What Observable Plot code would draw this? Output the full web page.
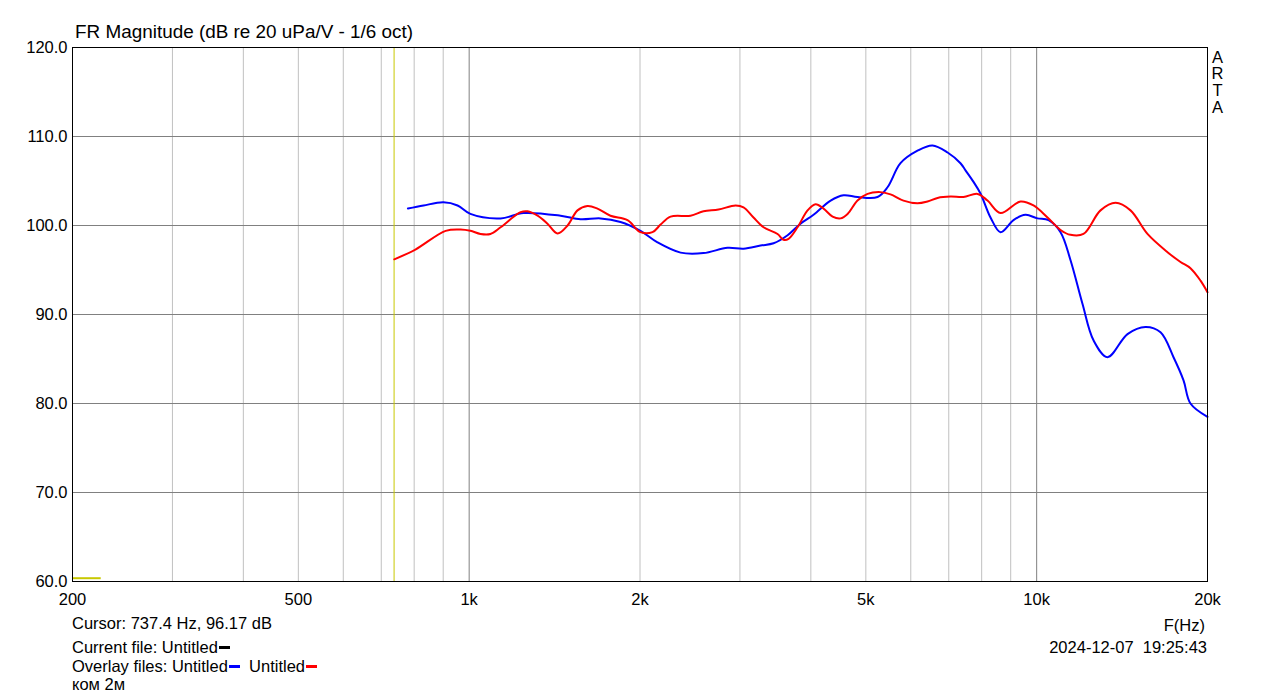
<!DOCTYPE html>
<html>
<head>
<meta charset="utf-8">
<script src="https://cdn.jsdelivr.net/npm/d3@7"></script>
<script src="https://cdn.jsdelivr.net/npm/@observablehq/plot@0.6"></script>
<style>
  html, body { margin: 0; padding: 0; background: #fff; }
  #wrap { position: relative; width: 1279px; height: 699px; overflow: hidden; font-family: "Liberation Sans", Arial, sans-serif; color: #000; }
  #wrap svg { position: absolute; left: 0; top: 0; }
  .t { position: absolute; line-height: 1; white-space: pre; font-size: 16.5px; }
  .dash { display: inline-block; width: 11px; height: 0; border-top: 3px solid; vertical-align: 4px; margin-left: 1px; }
</style>
</head>
<body>
<div id="wrap"></div>
<script>
// ---- data ----
const blueFreq = [780, 831, 901, 954, 1005, 1136, 1247, 1449, 1571, 1704, 1848, 2004, 2147, 2358, 2588, 2853, 3044, 3262, 3439, 3640, 3836, 4044, 4334, 4568, 4834, 5243, 5460, 5755, 6166, 6553, 6967, 7341, 7492, 7740, 7962, 8292, 8636, 9103, 9557, 10032, 10493, 11016, 11473, 12042, 12594, 13331, 14456, 15549, 16530, 17424, 18146, 18665, 20000];
const blueDb   = [101.9, 102.25, 102.6, 102.25, 101.3, 100.8, 101.4, 101.1, 100.7, 100.8, 100.4, 99.4, 98.1, 96.95, 96.9, 97.5, 97.4, 97.75, 98.0, 98.9, 100.2, 101.2, 102.8, 103.4, 103.2, 103.2, 104.3, 107.0, 108.4, 109.0, 108.2, 107.0, 106.2, 104.9, 103.6, 100.9, 99.25, 100.6, 101.2, 100.8, 100.6, 99.25, 96.1, 91.2, 87.1, 85.2, 87.8, 88.6, 88.0, 85.2, 82.6, 80.0, 78.5];

const redFreq = [738, 804, 909, 966, 1005, 1047, 1090, 1136, 1232, 1267, 1320, 1374, 1431, 1491, 1552, 1616, 1683, 1774, 1901, 2004, 2104, 2174, 2264, 2455, 2588, 2750, 2947, 3044, 3170, 3302, 3495, 3580, 3654, 3790, 3947, 4078, 4212, 4369, 4513, 4643, 4834, 5034, 5307, 5527, 5825, 6166, 6421, 6689, 7051, 7431, 7866, 8192, 8636, 9365, 9872, 10450, 11016, 11473, 12092, 12957, 13772, 14634, 15677, 17004, 17926, 18665, 19442, 20000];
const redDb   = [96.2, 97.3, 99.4, 99.55, 99.4, 99.05, 99.05, 99.8, 101.5, 101.6, 101.1, 100.2, 99.1, 100.0, 101.7, 102.2, 101.9, 101.1, 100.6, 99.25, 99.25, 100.1, 101.0, 101.1, 101.6, 101.8, 102.25, 102.05, 100.9, 99.8, 99.05, 98.4, 98.5, 99.8, 101.7, 102.4, 101.9, 101.0, 100.8, 101.3, 102.8, 103.55, 103.75, 103.5, 102.8, 102.5, 102.7, 103.1, 103.25, 103.2, 103.55, 102.8, 101.4, 102.7, 102.25, 100.9, 99.5, 98.95, 99.05, 101.7, 102.55, 101.7, 99.05, 97.0, 95.9, 95.2, 93.8, 92.5];

const xTickValues = [200, 500, 1000, 2000, 5000, 10000, 20000];
const xTickLabels = ["200", "500", "1k", "2k", "5k", "10k", "20k"];
const yTickValues = [60, 70, 80, 90, 100, 110, 120];
const xMinorGrid = [300, 400, 500, 600, 700, 800, 900, 2000, 3000, 4000, 5000, 6000, 7000, 8000, 9000];
const xMajorGrid = [1000, 10000];
const yGrid = [70, 80, 90, 100, 110];
const cursorFreq = [737.4];
const cursorMarkDb = [60.37];
const cursorMarkRange = [200, 224.7];

// ---- build rows ----
const blueRows = blueFreq.map((f, i) => ({f, db: blueDb[i]}));
const redRows = redFreq.map((f, i) => ({f, db: redDb[i]}));
const labelOf = new Map(xTickValues.map((v, i) => [v, xTickLabels[i]]));

const chart = Plot.plot({
  width: 1279,
  height: 699,
  marginTop: 47,
  marginLeft: 72,
  marginRight: 72,
  marginBottom: 118,
  style: {fontFamily: "'Liberation Sans', Arial, sans-serif", fontSize: "16.5px", background: "transparent", color: "#000"},
  x: {type: "log", domain: [200, 20000], range: [72, 1207]},
  y: {domain: [60, 120]},
  marks: [
    Plot.ruleX(xMinorGrid, {stroke: "#c0c0c0", strokeWidth: 1}),
    Plot.ruleX(xMajorGrid, {stroke: "#808080", strokeWidth: 1}),
    Plot.ruleY(yGrid, {stroke: "#808080", strokeWidth: 1}),
    Plot.ruleX(cursorFreq, {stroke: "#c8c800", strokeWidth: 1}),
    Plot.ruleY(cursorMarkDb, {x1: cursorMarkRange[0], x2: cursorMarkRange[1], stroke: "#c8c800", strokeWidth: 2}),
    Plot.line(blueRows, {x: "f", y: "db", stroke: "#0000ff", strokeWidth: 2, curve: "catmull-rom"}),
    Plot.line(redRows, {x: "f", y: "db", stroke: "#ff0000", strokeWidth: 2, curve: "catmull-rom"}),
    Plot.frame({stroke: "#000", strokeWidth: 1}),
    Plot.axisX({ticks: xTickValues, tickFormat: d => labelOf.get(d), tickSize: 0, tickPadding: 12, label: null, fontSize: 16.5}),
    Plot.axisY({ticks: yTickValues, tickFormat: d3.format(".1f"), tickSize: 0, tickPadding: 5, label: null, fontSize: 16.5})
  ]
});

const wrap = document.getElementById("wrap");
wrap.appendChild(chart);

function addText(html, css) {
  const d = document.createElement("div");
  d.className = "t";
  d.innerHTML = html;
  Object.assign(d.style, css);
  wrap.appendChild(d);
  return d;
}

addText("FR Magnitude (dB re 20 uPa/V - 1/6 oct)", {left: "75px", top: "23.3px", fontSize: "18.9px"});
addText("A<br>R<br>T<br>A", {left: "1211px", top: "48.6px", lineHeight: "16.7px", textAlign: "center", width: "13px"});
addText("Cursor: 737.4 Hz, 96.17 dB", {left: "72px", top: "615.2px"});
addText('Current file: Untitled<span class="dash" style="border-color:#000"></span>', {left: "72px", top: "638.7px"});
addText('Overlay files: Untitled<span class="dash" style="border-color:#0000ff"></span>  Untitled<span class="dash" style="border-color:#ff0000"></span>', {left: "72px", top: "657.7px"});
addText("ком 2м", {left: "72px", top: "675.9px"});
addText("F(Hz)", {right: "74px", top: "616.9px"});
addText("2024-12-07  19:25:43", {right: "72px", top: "638.6px"});
</script>
</body>
</html>
